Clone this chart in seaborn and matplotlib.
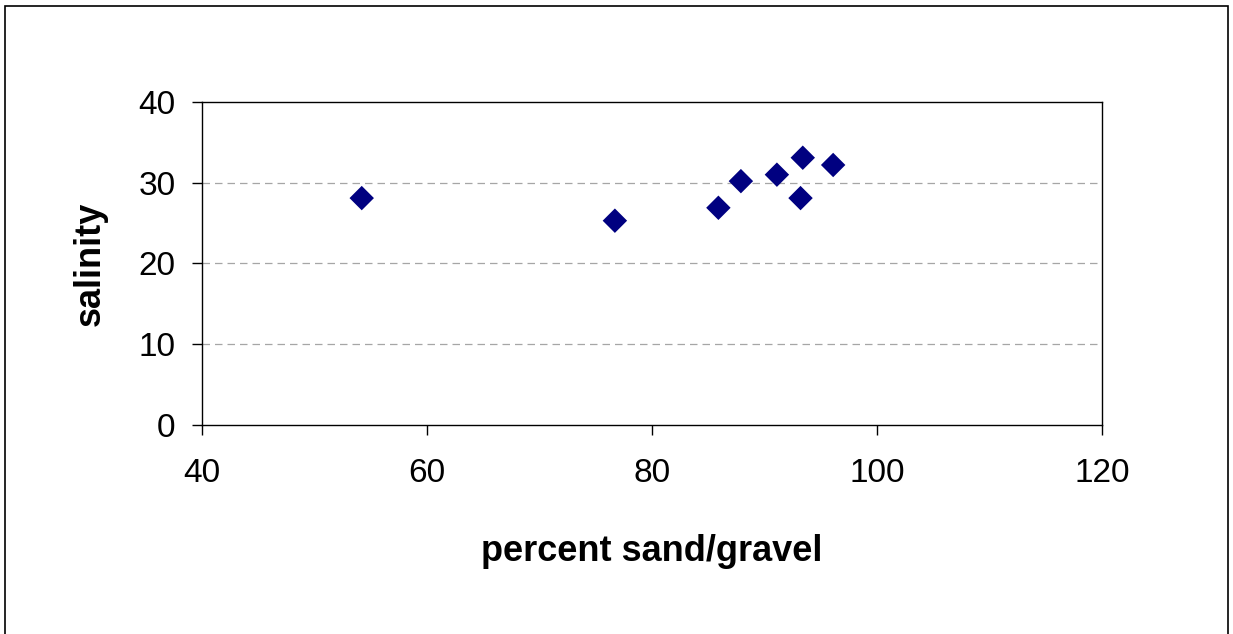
import matplotlib
matplotlib.use('Agg')
import matplotlib.pyplot as plt
import seaborn as sns
import pandas as pd

# values
sand_gravel = [54.2, 76.7, 85.9, 87.9, 91.1, 93.4, 93.2, 96.1]
salinity = [28.1, 25.3, 26.9, 30.2, 31.0, 33.1, 28.1, 32.2]
x_ticks = [40, 60, 80, 100, 120]
y_ticks = [0, 10, 20, 30, 40]

df = pd.DataFrame({'sand': sand_gravel, 'salinity': salinity})

sns.set_style('white')
plt.rcParams['font.family'] = ['Liberation Sans', 'DejaVu Sans']
plt.rcParams['text.color'] = 'black'
plt.rcParams['axes.labelcolor'] = 'black'
plt.rcParams['xtick.color'] = 'black'
plt.rcParams['ytick.color'] = 'black'

fig = plt.figure(figsize=(12.33, 6.34), dpi=100)
ax = fig.add_axes([0.1638, 0.3297, 0.73, 0.5094])

sns.scatterplot(data=df, x='sand', y='salinity', ax=ax, marker='D', s=155,
                color='#000080', edgecolor='none', zorder=3)

ax.set_xlim(40, 120)
ax.set_ylim(0, 40)
ax.set_xticks(x_ticks)
ax.set_yticks(y_ticks)
for y in y_ticks[1:-1]:
    ax.axhline(y, color='#a6a6a6', linestyle=(0, (6, 4)), linewidth=0.9, zorder=1)

for s in ax.spines.values():
    s.set_color('black')
    s.set_linewidth(1.0)
ax.tick_params(axis='both', direction='out', length=7, width=1, color='black',
               labelsize=24, labelcolor='black', bottom=True, left=True)
ax.tick_params(axis='x', pad=17)
ax.tick_params(axis='y', pad=12)

ax.set_xlabel('percent sand/gravel', fontsize=26, fontweight='bold', labelpad=32)
ax.set_ylabel('salinity', fontsize=26, fontweight='bold', labelpad=22)

# outer chart border
border = plt.Rectangle((5 / 1233, -0.05), (1228 - 5) / 1233, 1.05 - 6 / 634,
                       transform=fig.transFigure, fill=False, edgecolor='black',
                       linewidth=1.2)
fig.patches.append(border)

fig.savefig('out.png', dpi=100)
